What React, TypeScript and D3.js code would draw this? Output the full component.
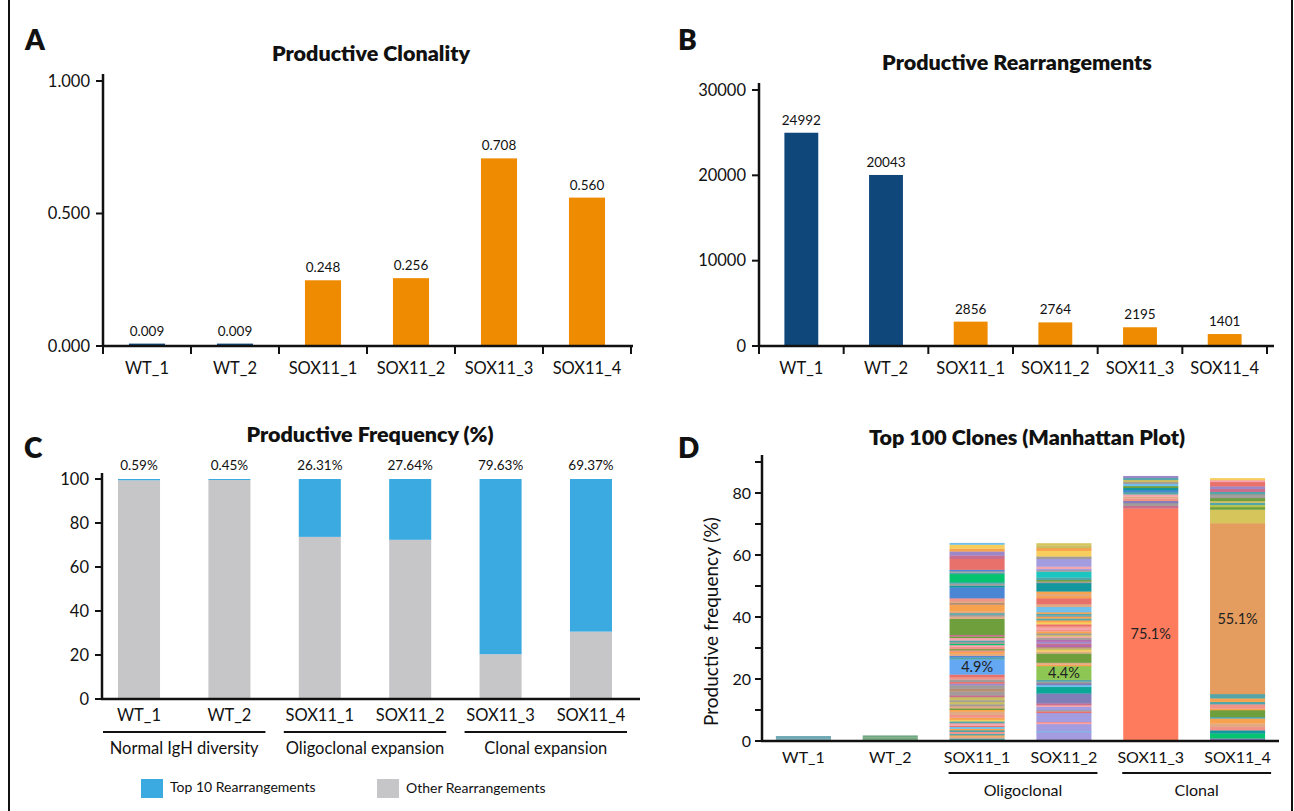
import * as d3 from "d3";

const samples = ["WT_1", "WT_2", "SOX11_1", "SOX11_2", "SOX11_3", "SOX11_4"];

// A: productive clonality
const clonality = [0.009, 0.009, 0.248, 0.256, 0.708, 0.56];
const clonalityTicks = [0, 0.5, 1];

// B: productive rearrangements
const rearrangements = [24992, 20043, 2856, 2764, 2195, 1401];
const rearrTicks = [0, 10000, 20000, 30000];

// C: productive frequency (%)
const top10 = [0.59, 0.45, 26.31, 27.64, 79.63, 69.37];
const otherRearr = [99.41, 99.55, 73.69, 72.36, 20.37, 30.63];
const freqTicks = [0, 20, 40, 60, 80, 100];
const groupsC = [
  { label: "Normal IgH diversity", from: "WT_1", to: "WT_2" },
  { label: "Oligoclonal expansion", from: "SOX11_1", to: "SOX11_2" },
  { label: "Clonal expansion", from: "SOX11_3", to: "SOX11_4" },
];

// D: top 100 clones, bottom -> top (% of productive)
const clonesWT1 = [0.5, 0.55, 0.55];
const clonesWT2 = [0.6, 0.6, 0.6];
const clonesSOX11_1 = [
  0.4, 0.5, 0.6, 0.4, 0.5, 0.7, 0.4, 0.5, 0.6, 0.4, 0.8, 0.6, 0.5, 0.7, 0.9, 1.0,
  0.6, 0.5, 0.7, 0.6, 0.8, 0.5, 1.0, 0.6, 1.2, 0.9, 1.1, 0.6, 0.5, 0.8, 0.7, 0.9,
  4.9,
  0.6, 0.5, 0.7, 0.6, 0.5, 0.4, 0.8, 0.5, 0.4, 0.6, 0.5, 0.8, 0.5, 0.5,
  5.2, 0.7, 0.6, 0.5, 0.5, 2.2, 0.6, 0.6, 0.9, 3.5, 0.6, 0.6, 0.5, 2.6, 0.5, 0.4,
  0.5, 3.5, 1.1, 1.3, 0.9, 1.3, 0.5,
];
const clonesSOX11_2 = [
  0.6, 2.3, 0.3, 2.3, 0.4, 0.3, 2.9, 0.5, 0.4, 1.1, 0.5, 0.6, 3.2, 2.1, 0.6, 0.6,
  0.5, 0.6, 4.4, 0.5, 0.6, 3.0, 0.6, 0.5, 0.5, 0.5, 0.6, 0.5, 0.6, 0.6, 0.6, 0.5,
  0.5, 0.5, 0.6, 0.5, 0.7, 0.5, 0.6, 0.7, 0.6, 0.6, 0.5, 0.4, 0.6, 0.5, 1.7, 0.9,
  1.9, 0.7, 0.6, 0.9, 2.7, 0.5, 0.5, 0.8, 1.9, 0.5, 0.4, 0.7, 2.5, 0.8, 1.8, 0.9,
  0.8, 0.7,
];
const clonesSOX11_3 = [75.1, 0.8, 0.9, 0.7, 0.8, 0.6, 0.7, 0.8, 0.6, 0.7, 0.6, 0.7, 0.6, 0.7, 0.6, 0.6];
const clonesSOX11_4 = [
  0.9, 1.6, 1.0, 1.1, 1.1, 1.6, 0.5, 2.2, 0.5, 1.4, 0.8, 1.1, 1.4,
  55.1, 4.4, 0.8, 0.7, 0.7, 0.6, 0.9, 0.6, 0.7, 0.7, 1.0, 0.8, 1.4, 0.6, 0.6,
];
const clones = [clonesWT1, clonesWT2, clonesSOX11_1, clonesSOX11_2, clonesSOX11_3, clonesSOX11_4];
const freqTicksD = [0, 10, 20, 30, 40, 50, 60, 70, 80, 90];
// labels inside bars: text and height (%) of the label
const cloneLabels = [
  { sample: "SOX11_1", text: "4.9%", at: 23.95 },
  { sample: "SOX11_2", text: "4.4%", at: 22.0 },
  { sample: "SOX11_3", text: "75.1%", at: 34.5 },
  { sample: "SOX11_4", text: "55.1%", at: 39.4 },
];
const groupsD = [
  { label: "Oligoclonal", from: "SOX11_1", to: "SOX11_2" },
  { label: "Clonal", from: "SOX11_3", to: "SOX11_4" },
];

// clone colours (style)
const pal: Record<string, string> = {
  coral: "#FF7B5E", salmon: "#F2938A", red: "#E9716C", teal: "#52A6AA", darkTeal: "#12979F",
  jade: "#0BA898", cyan: "#1CC4C2", green: "#6F9F3D", brightGreen: "#05C46F", lightGreen: "#8EC653",
  blue: "#4A86D4", lightBlue: "#64A7F2", skyBlue: "#6FC0EC", slate: "#807DB8", purple: "#9C87C8",
  lavender: "#A39CE0", mauve: "#C96F8D", magenta: "#B46BAE", orange: "#F7A24E", tanOrange: "#E49D5E",
  tan: "#E1A984", yellow: "#F7CD5E", olive: "#C9BE66", khaki: "#D5C55B", gray: "#A19B99",
  brown: "#B88E73", pink: "#F4A4AA", yellowGreen: "#B8C64F", wt1: "#6EA8B6", wt1b: "#7AAFB4",
  wt2: "#6DA883", wt2b: "#78AC7E",
};
const colWT1 = ["wt1", "wt1b", "wt1"];
const colWT2 = ["wt2", "wt2b", "wt2"];
const colSOX11_1 = [
  "blue", "teal", "tan", "orange", "teal", "salmon", "darkTeal", "orange", "skyBlue", "red", "pink", "teal",
  "yellow", "orange", "salmon", "tan", "orange", "green", "tan", "gray", "olive", "gray", "olive", "mauve",
  "gray", "brown", "gray", "purple", "red", "gray", "salmon", "red",
  "lightBlue",
  "teal", "blue", "tan", "orange", "salmon", "green", "salmon", "pink", "brightGreen", "gray", "teal", "pink",
  "green", "mauve",
  "green", "tan", "gray", "teal", "tan", "orange", "brown", "tan", "salmon", "blue", "darkTeal", "gray",
  "teal", "brightGreen", "teal", "gray", "blue", "red", "mauve", "purple", "orange", "yellow", "skyBlue",
];
const colSOX11_2 = [
  "purple", "lavender", "skyBlue", "lavender", "pink", "salmon", "lavender", "red", "gray", "lavender", "pink",
  "mauve", "slate", "jade", "skyBlue", "slate", "gray", "teal", "lightGreen", "orange", "tan", "green", "tan",
  "yellow", "olive", "brown", "magenta", "mauve", "purple", "magenta", "gray", "pink", "olive", "gray", "orange",
  "salmon", "pink", "salmon", "red", "yellow", "orange", "teal", "orange", "gray", "teal", "orange", "skyBlue",
  "tan", "red", "orange", "tan", "orange", "darkTeal", "gray", "green", "teal", "cyan", "gray", "lavender",
  "pink", "lavender", "gray", "yellow", "orange", "olive", "khaki",
];
const colSOX11_3 = [
  "coral", "mauve", "gray", "slate", "salmon", "tan", "pink", "teal", "blue", "darkTeal", "green", "skyBlue",
  "gray", "olive", "teal", "purple",
];
const colSOX11_4 = [
  "slate", "brightGreen", "darkTeal", "salmon", "tan", "orange", "teal", "green", "orange", "salmon", "teal",
  "orange", "teal", "tanOrange", "khaki", "green", "yellowGreen", "teal", "olive", "green", "gray", "gray",
  "teal", "mauve", "purple", "red", "pink", "yellow",
];
const cloneColors = [colWT1, colWT2, colSOX11_1, colSOX11_2, colSOX11_3, colSOX11_4];

const font = "Lato, 'Open Sans', Arial, sans-serif";
const navy = "#0F477B";
const orange = "#EF8B00";
const blueTop = "#3AAAE1";
const grayOther = "#C6C5C8";
const ink = "#111";

function SimpleBars({ values, ticks, fmt, labels, yRange, xRange, pi, po, axisTop, axisEnd }: any) {
  const x = d3.scaleBand().domain(samples).range(xRange).paddingInner(pi).paddingOuter(po);
  const y = d3.scaleLinear().domain([ticks[0], ticks[ticks.length - 1]]).range(yRange);
  const x0 = xRange[0];
  const y0 = y(0);
  const bounds = d3.range(samples.length + 1).map((i) => x0 + i * x.step());
  return (
    <g fontFamily={font} fill={ink}>
      {values.map((v: number, i: number) => (
        <g key={i}>
          <rect x={x(samples[i])} y={y(v)} width={x.bandwidth()} height={y0 - y(v)} fill={i < 2 ? navy : orange} />
          <text x={x(samples[i])! + x.bandwidth() / 2} y={y(v) - 8} textAnchor="middle" fontSize={13.5}>
            {labels[i]}
          </text>
        </g>
      ))}
      <line x1={x0} x2={x0} y1={axisTop} y2={y0 + 1} stroke={ink} strokeWidth={2.5} />
      <line x1={x0 - 1} x2={axisEnd} y1={y0} y2={y0} stroke={ink} strokeWidth={2.5} />
      {ticks.map((t: number) => (
        <g key={t}>
          <line x1={x0 - 7} x2={x0} y1={y(t)} y2={y(t)} stroke={ink} strokeWidth={2} />
          <text x={x0 - 13} y={y(t) + 5.5} textAnchor="end" fontSize={16.5}>{fmt(t)}</text>
        </g>
      ))}
      {bounds.map((b, i) => (
        <line key={i} x1={b} x2={b} y1={y0} y2={y0 + 8} stroke={ink} strokeWidth={2} />
      ))}
      {samples.map((s) => (
        <text key={s} x={x(s)! + x.bandwidth() / 2} y={y0 + 28} textAnchor="middle" fontSize={16.5}>{s}</text>
      ))}
    </g>
  );
}

function PanelC() {
  const x = d3.scaleBand().domain(samples).range([102, 628]).paddingInner(0.535).paddingOuter(0.177);
  const y = d3.scaleLinear().domain([0, 100]).range([699, 479]);
  const bw = x.bandwidth();
  return (
    <g fontFamily={font} fill={ink}>
      {samples.map((s, i) => (
        <g key={s}>
          <rect x={x(s)} y={y(otherRearr[i])} width={bw} height={y(0) - y(otherRearr[i])} fill={grayOther} />
          <rect x={x(s)} y={y(otherRearr[i] + top10[i])} width={bw} height={y(otherRearr[i]) - y(otherRearr[i] + top10[i])} fill={blueTop} />
          <text x={x(s)! + bw / 2} y={470} textAnchor="middle" fontSize={13.5}>{top10[i].toFixed(2)}%</text>
          <text x={x(s)! + bw / 2} y={721} textAnchor="middle" fontSize={16.5}>{s}</text>
        </g>
      ))}
      <line x1={102} x2={102} y1={473} y2={700} stroke={ink} strokeWidth={2.5} />
      <line x1={101} x2={640} y1={y(0)} y2={y(0)} stroke={ink} strokeWidth={2.5} />
      {freqTicks.map((t) => (
        <g key={t}>
          <line x1={95} x2={102} y1={y(t)} y2={y(t)} stroke={ink} strokeWidth={2} />
          <text x={89} y={y(t) + 5.5} textAnchor="end" fontSize={16.5}>{t}</text>
        </g>
      ))}
      {groupsC.map((g) => {
        const a = x(g.from)! - 15;
        const b = x(g.to)! + bw + 15;
        return (
          <g key={g.label}>
            <line x1={a} x2={b} y1={732} y2={732} stroke={ink} strokeWidth={2} />
            <text x={(a + b) / 2} y={754} textAnchor="middle" fontSize={16.5}>{g.label}</text>
          </g>
        );
      })}
      <rect x={141} y={779} width={22} height={19} fill={blueTop} />
      <text x={170} y={792} fontSize={14}>Top 10 Rearrangements</text>
      <rect x={377} y={779} width={22} height={19} fill={grayOther} />
      <text x={406} y={793} fontSize={14}>Other Rearrangements</text>
    </g>
  );
}

function PanelD() {
  const x = d3.scaleBand().domain(samples).range([762, 1279]).paddingInner(0.366).paddingOuter(0.16);
  const y = d3.scaleLinear().domain([0, 92]).range([741, 741 - 92 * 3.1]);
  const bw = x.bandwidth();
  return (
    <g fontFamily={font} fill={ink}>
      {samples.map((s, i) => {
        const tops = Array.from(d3.cumsum(clones[i]));
        return (
          <g key={s}>
            {clones[i].map((v, j) => {
              const top = tops[j];
              const bottom = top - v;
              return (
                <rect key={j} x={x(s)} y={y(top)} width={bw} height={y(bottom) - y(top) + 0.3}
                  fill={pal[cloneColors[i][j]]} />
              );
            })}
            <text x={x(s)! + bw / 2} y={763} textAnchor="middle" fontSize={16}>{s}</text>
          </g>
        );
      })}
      {cloneLabels.map((l) => (
        <text key={l.sample} x={x(l.sample)! + bw / 2} y={y(l.at) + 5} textAnchor="middle" fontSize={14.5} fill="#222">
          {l.text}
        </text>
      ))}
      <line x1={762} x2={762} y1={455} y2={742} stroke={ink} strokeWidth={2.5} />
      <line x1={761} x2={1279} y1={y(0)} y2={y(0)} stroke={ink} strokeWidth={2.5} />
      {freqTicksD.map((t) => (
        <g key={t}>
          <line x1={755} x2={762} y1={y(t)} y2={y(t)} stroke={ink} strokeWidth={2} />
          {t % 20 === 0 && (
            <text x={751} y={y(t) + 5.5} textAnchor="end" fontSize={16}>{t}</text>
          )}
        </g>
      ))}
      <text transform={`translate(718,${y(38.5)}) rotate(-90)`} textAnchor="middle" fontSize={19}>
        Productive frequency (%)
      </text>
      {groupsD.map((g) => {
        const a = x(g.from)! - 1;
        const b = x(g.to)! + bw + 6;
        return (
          <g key={g.label}>
            <line x1={a} x2={b} y1={773} y2={773} stroke={ink} strokeWidth={2} />
            <text x={(a + b) / 2} y={796} textAnchor="middle" fontSize={16}>{g.label}</text>
          </g>
        );
      })}
    </g>
  );
}

export default function App() {
  return (
    <svg width={1294} height={811} style={{ position: "absolute", left: 0, top: 0, background: "#fff" }}>
      <rect width={1294} height={811} fill="#fff" />
      <line x1={9} x2={9} y1={0} y2={811} stroke={ink} strokeWidth={2} />
      <line x1={1292} x2={1292} y1={0} y2={811} stroke={ink} strokeWidth={2} />
      <g fontFamily={font} fontWeight={800} fill={ink}>
        <text x={25} y={50} fontSize={28}>A</text>
        <text x={678} y={50} fontSize={28}>B</text>
        <text x={24} y={458} fontSize={28}>C</text>
        <text x={678} y={458} fontSize={28}>D</text>
        <text x={371} y={61} textAnchor="middle" fontSize={21.5}>Productive Clonality</text>
        <text x={1017} y={70} textAnchor="middle" fontSize={21.5}>Productive Rearrangements</text>
        <text x={370} y={442} textAnchor="middle" fontSize={21.5}>Productive Frequency (%)</text>
        <text x={1027} y={445} textAnchor="middle" fontSize={21.5}>Top 100 Clones (Manhattan Plot)</text>
      </g>
      <SimpleBars values={clonality} ticks={clonalityTicks} fmt={(t: number) => t.toFixed(3)}
        labels={clonality.map((v) => v.toFixed(3))} yRange={[346, 81]} xRange={[103, 631]}
        pi={0.59} po={0.295} axisTop={74} axisEnd={633} />
      <SimpleBars values={rearrangements} ticks={rearrTicks} fmt={(t: number) => String(t)}
        labels={rearrangements.map(String)} yRange={[346, 90]} xRange={[759, 1267]}
        pi={0.6} po={0.3} axisTop={83} axisEnd={1274} />
      <PanelC />
      <PanelD />
    </svg>
  );
}
